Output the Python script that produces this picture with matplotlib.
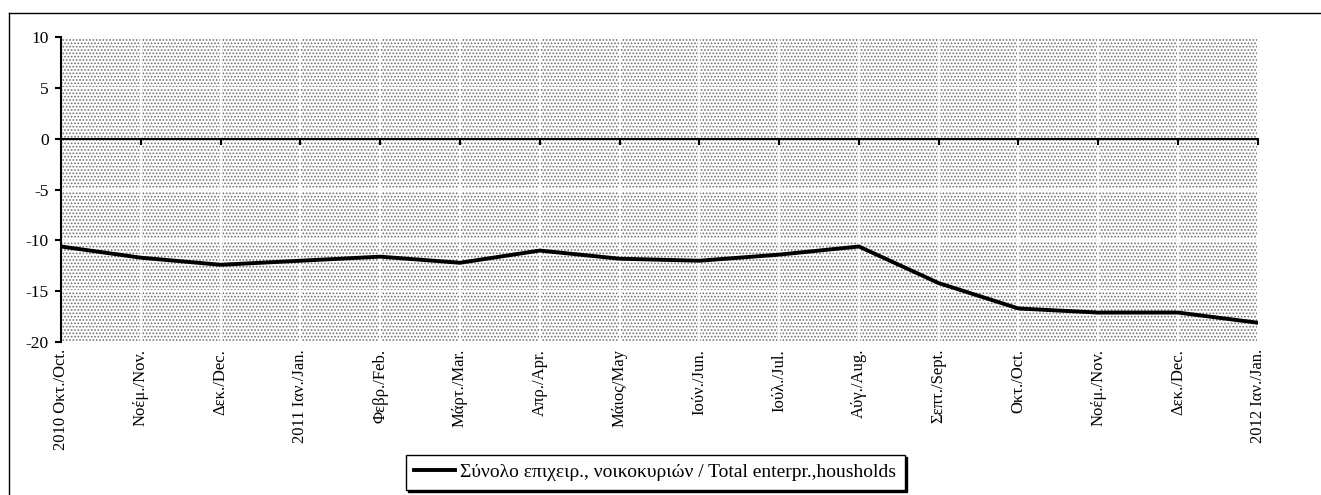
import matplotlib
matplotlib.use('Agg')
import matplotlib.pyplot as plt
from matplotlib.patches import Rectangle
from matplotlib.lines import Line2D

plt.rcParams['font.family'] = ['Liberation Serif', 'DejaVu Serif']
plt.rcParams['axes.unicode_minus'] = False
plt.rcParams['hatch.color'] = '#707070'
plt.rcParams['hatch.linewidth'] = 0.8

months = ['2010 Οκτ./Oct.', 'Νοέμ./Nov.', 'Δεκ./Dec.', '2011 Ιαν./Jan.', 'Φεβρ./Feb.',
          'Μάρτ./Mar.', 'Απρ./Apr.', 'Μάιος/May', 'Ιούν./Jun.', 'Ιούλ./Jul.', 'Αύγ./Aug.',
          'Σεπτ./Sept.', 'Οκτ./Oct.', 'Νοέμ./Nov.', 'Δεκ./Dec.', '2012 Ιαν./Jan.']
total = [-10.6, -11.7, -12.4, -12.0, -11.6, -12.2, -11.0, -11.8, -12.0, -11.4, -10.6,
         -14.2, -16.7, -17.1, -17.1, -18.1]
series_name = 'Σύνολο επιχειρ., νοικοκυριών / Total enterpr.,housholds'
yticks = [-20, -15, -10, -5, 0, 5, 10]

fig = plt.figure(figsize=(13.21, 4.95), dpi=100)
ax = fig.add_axes([0.0462, 0.309, 0.906, 0.616])

x = list(range(len(months)))

# dotted background
ax.add_patch(Rectangle((0, 0), 1, 1, transform=ax.transAxes, facecolor='white',
                       hatch='.....', edgecolor='#707070', lw=0, zorder=0))
ax.set_xlim(0, len(months) - 1)
ax.set_ylim(-20, 10)
ax.set_yticks(yticks)
ax.set_xticks(x)
ax.grid(True, color='white', lw=1.3, zorder=1)
ax.set_axisbelow(True)

ax.plot(x, total, color='black', lw=2.8, zorder=3, label=series_name, solid_joinstyle='miter')

for s in ['top', 'right']:
    ax.spines[s].set_visible(False)
ax.spines['bottom'].set_position(('data', 0))
ax.spines['bottom'].set_linewidth(1.5)
ax.spines['left'].set_linewidth(1.5)
ax.tick_params(axis='x', direction='out', length=4, width=1.5, labelbottom=False)
ax.tick_params(axis='y', direction='out', length=4, width=1.5, labelsize=12.5, pad=5)

sec = ax.secondary_xaxis(0)
sec.set_xticks(x)
sec.set_xticklabels(months, rotation=90, fontsize=12)
sec.tick_params(length=0, pad=5)
sec.spines['bottom'].set_visible(False)

leg = fig.legend(loc='center', bbox_to_anchor=(0.496, 0.0455), fontsize=14,
                 frameon=True, fancybox=False, edgecolor='black', handlelength=2.1,
                 handletextpad=0.25, borderaxespad=0, borderpad=0.45,
                 shadow={'color': 'black', 'alpha': 1, 'ox': 1.5, 'oy': -1.5})
leg.get_frame().set_linewidth(1.0)

# outer chart frame
fig.add_artist(Line2D([0.007, 1.0], [0.974, 0.974], color='black', lw=1.0))
fig.add_artist(Line2D([0.007, 0.007], [0.0, 0.974], color='black', lw=1.0))

fig.savefig('out.png', dpi=100)
